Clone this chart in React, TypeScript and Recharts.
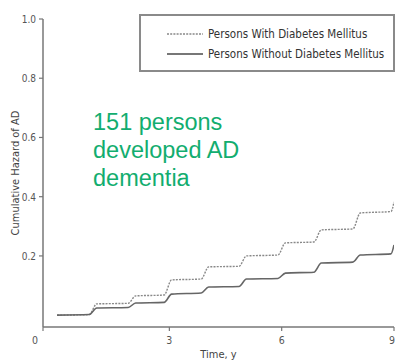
import { Legend, Line, LineChart, XAxis, YAxis } from "recharts";

// time (years) with small ramps around each yearly step
const years = [0, 0.86, 1.06, 1.9, 2.1, 2.86, 3.06, 3.85, 4.05, 4.86, 5.06, 5.9, 6.1, 6.86, 7.06, 7.9, 8.1, 8.92, 9];
const withDM = [0.0, 0.002, 0.038, 0.04, 0.065, 0.068, 0.119, 0.122, 0.163, 0.165, 0.2, 0.203, 0.244, 0.247, 0.288, 0.291, 0.345, 0.35, 0.382];
const withoutDM = [0.0, 0.002, 0.024, 0.026, 0.041, 0.043, 0.071, 0.075, 0.095, 0.097, 0.122, 0.124, 0.142, 0.145, 0.176, 0.179, 0.203, 0.207, 0.237];

const xTicks = [-0.375, 3, 6, 9];
const xTickLabels = ["0", "3", "6", "9"];
const yTicks = [0.2, 0.4, 0.6, 0.8, 1.0];

const seriesNames = ["Persons With Diabetes Mellitus", "Persons Without Diabetes Mellitus"];
const noteLines = ["151 persons", "developed AD", "dementia"];

const narrow = "'Liberation Sans Narrow', 'DejaVu Sans Condensed', Arial, sans-serif";
const axisColor = "#777";
const textColor = "#555";

const data = years.map((t, i) => ({ t, withDM: withDM[i], withoutDM: withoutDM[i] }));

const XTick = (props: any) => {
  const { x, y, index } = props;
  const first = index === 0;
  return (
    <text x={first ? x - 8 : x} y={y + 11} textAnchor="middle" fill={textColor} fontSize={10.5} fontFamily={narrow}>
      {xTickLabels[index]}
    </text>
  );
};

const YTick = (props: any) => {
  const { x, y, payload } = props;
  return (
    <text x={x - 1} y={y + 4} textAnchor="end" fill={textColor} fontSize={10} fontFamily={narrow}>
      {payload.value.toFixed(1)}
    </text>
  );
};

const LegendBox = () => (
  <div
    style={{
      width: 256,
      height: 58,
      boxSizing: "border-box",
      border: "2px solid #8a8a8a",
      fontFamily: narrow,
      fontSize: 11.5,
      color: "#333",
      position: "relative",
    }}
  >
    {seriesNames.map((name, i) => (
      <div key={name} style={{ position: "absolute", left: 26, top: 11 + i * 20, display: "flex", alignItems: "center", height: 14 }}>
        <svg width={36} height={4} style={{ marginRight: 5 }}>
          <line
            x1={0}
            x2={36}
            y1={2}
            y2={2}
            stroke={i === 0 ? "#888" : "#777"}
            strokeWidth={i === 0 ? 1.3 : 1.8}
            strokeDasharray={i === 0 ? "2 1.2" : undefined}
          />
        </svg>
        <span style={{ whiteSpace: "nowrap" }}>{name}</span>
      </div>
    ))}
  </div>
);

export default function App() {
  return (
    <div style={{ position: "absolute", left: 0, top: 0, width: 396, height: 360, background: "#fff" }}>
      <LineChart width={396} height={360} data={data} margin={{ top: 19, right: 2, bottom: 0, left: 0 }}>
        <XAxis
          dataKey="t"
          type="number"
          domain={[-0.375, 9]}
          ticks={xTicks}
          tick={<XTick />}
          tickSize={4}
          tickLine={{ stroke: axisColor, strokeWidth: 1.2 }}
          height={33}
          stroke={axisColor}
          strokeWidth={1.5}
          allowDataOverflow
          label={{ value: "Time, y", position: "insideBottom", offset: 2, fill: "#444", fontSize: 11, fontFamily: narrow }}
        />
        <YAxis
          type="number"
          domain={[-0.04, 1.0]}
          ticks={yTicks}
          tick={<YTick />}
          tickSize={4}
          tickLine={{ stroke: axisColor, strokeWidth: 1.2 }}
          width={43}
          stroke={axisColor}
          strokeWidth={1.5}
          allowDataOverflow
          label={{
            value: "Cumulative Hazard of AD",
            angle: -90,
            position: "insideLeft",
            dx: 10,
            dy: 0,
            fill: "#444",
            fontSize: 11,
            fontFamily: narrow,
            style: { textAnchor: "middle" },
          }}
        />
        <Legend
          layout="horizontal"
          verticalAlign="middle"
          align="center"
          wrapperStyle={{ position: "absolute", left: 139, top: 14, width: 256 }}
          content={() => <LegendBox />}
        />
        <Line
          type="monotone"
          dataKey="withDM"
          name={seriesNames[0]}
          stroke="#888"
          strokeWidth={1.4}
          strokeDasharray="2 1.2"
          dot={false}
          isAnimationActive={false}
        />
        <Line
          type="monotone"
          dataKey="withoutDM"
          name={seriesNames[1]}
          stroke="#666"
          strokeWidth={1.6}
          dot={false}
          isAnimationActive={false}
        />
      </LineChart>
      <div
        style={{
          position: "absolute",
          left: 93,
          top: 108,
          fontFamily: "'Liberation Sans', Arial, sans-serif",
          fontSize: 23.5,
          lineHeight: "28px",
          color: "#12ad6f",
          whiteSpace: "nowrap",
        }}
      >
        {noteLines.map((l) => (
          <div key={l}>{l}</div>
        ))}
      </div>
    </div>
  );
}
